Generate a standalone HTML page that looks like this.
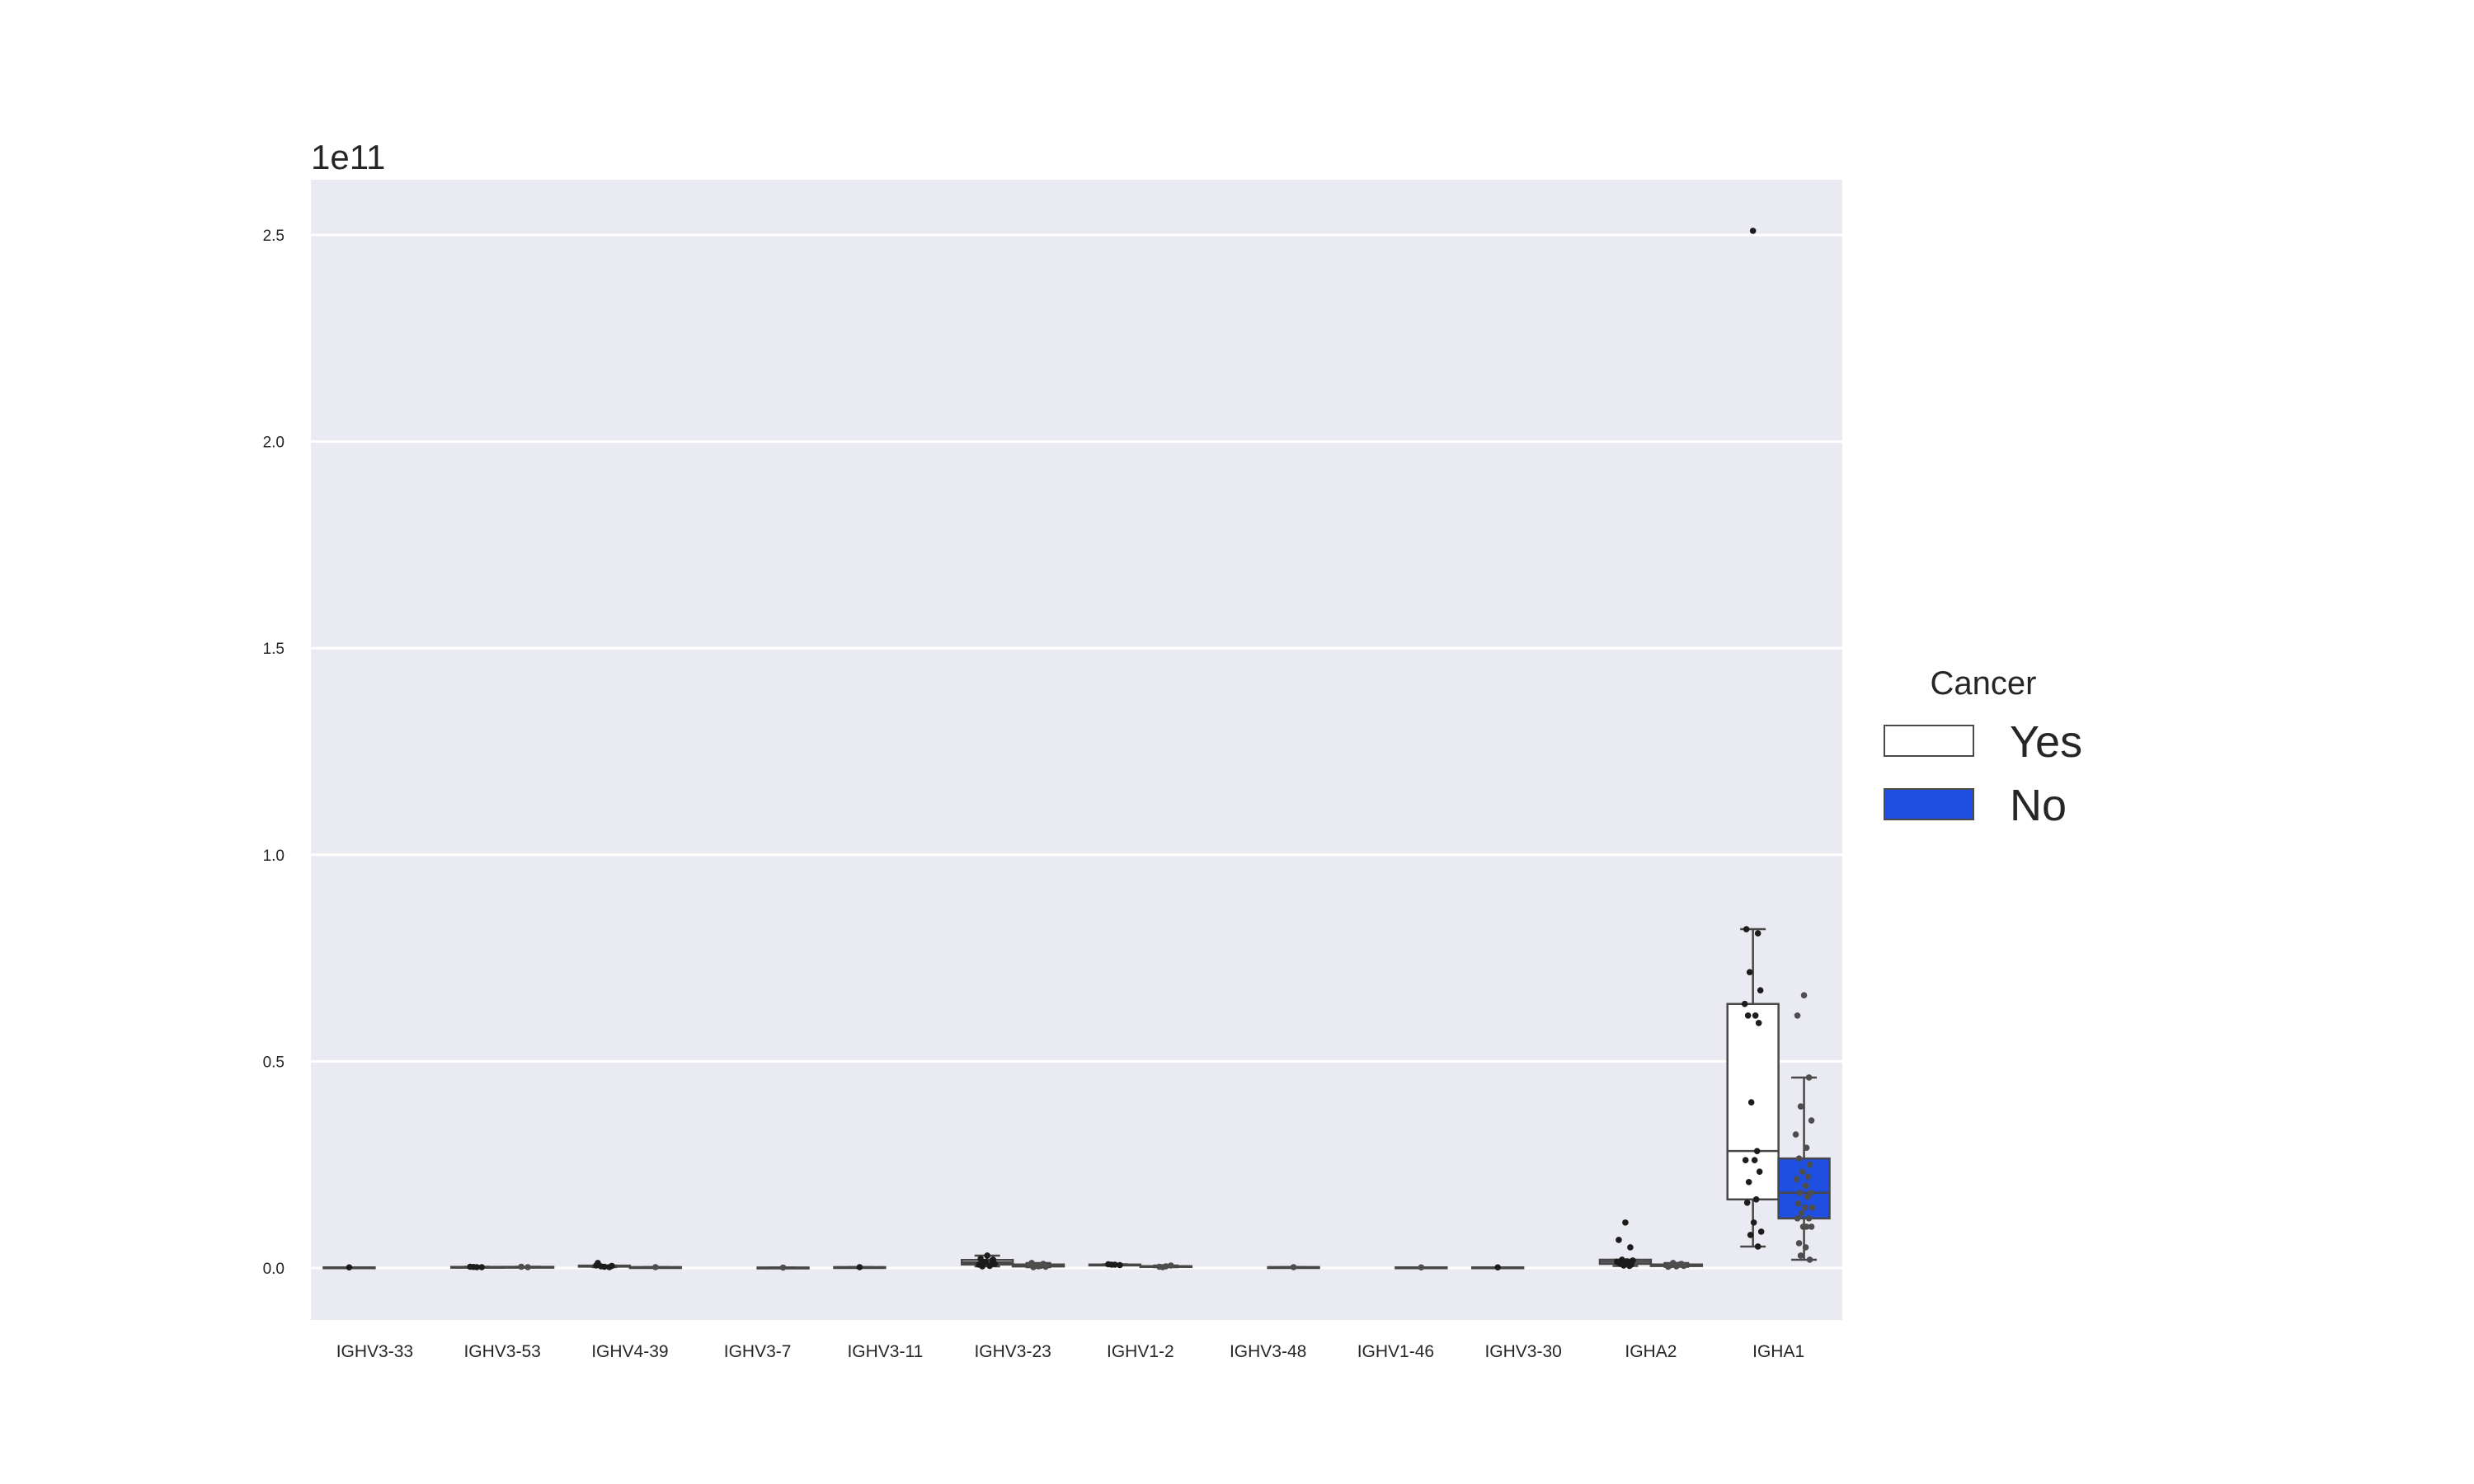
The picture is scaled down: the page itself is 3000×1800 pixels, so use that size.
<!DOCTYPE html>
<html><head><meta charset="utf-8"><style>
html,body{margin:0;padding:0;background:#fff;}
svg{display:block;font-family:"Liberation Sans",sans-serif;}
</style></head><body>
<svg id="chart" width="3000" height="1800" viewBox="0 0 3000 1800">
  <rect x="377" y="218" width="1857" height="1383" fill="#eaeaf2"/>
  <g id="grid"></g>
  <g id="marks"></g>
  <g id="axes"></g>
  <text x="377" y="205" font-size="42" fill="#262626">1e11</text>
  <g>
    <text x="2405" y="842" font-size="40" fill="#262626" text-anchor="middle">Cancer</text>
    <rect x="2285" y="880" width="108" height="37" fill="#ffffff" stroke="#4a4a4a" stroke-width="2"/>
    <text x="2437" y="918" font-size="54" fill="#262626">Yes</text>
    <rect x="2285" y="957" width="108" height="37" fill="#1f4fe0" stroke="#4a4a4a" stroke-width="2"/>
    <text x="2437" y="995" font-size="54" fill="#262626">No</text>
  </g>
</svg>
<script>
const categories = ["IGHV3-33","IGHV3-53","IGHV4-39","IGHV3-7","IGHV3-11","IGHV3-23","IGHV1-2","IGHV3-48","IGHV1-46","IGHV3-30","IGHA2","IGHA1"];
const yesValues = [
  [0.0015],
  [0.002,0.003,0.002,0.0025],
  [0.003,0.012,0.002,0.004,0.005,0.006],
  [],
  [0.002],
  [0.03,0.022,0.018,0.012,0.01,0.008,0.005,0.004,0.02,0.015],
  [0.008,0.009,0.007,0.008],
  [],
  [],
  [0.0015],
  [0.11,0.068,0.05,0.02,0.018,0.015,0.012,0.01,0.008,0.006,0.005,0.014,0.016],
  [2.51,0.82,0.81,0.716,0.672,0.639,0.611,0.611,0.593,0.401,0.283,0.261,0.261,0.233,0.208,0.166,0.158,0.11,0.088,0.08,0.052]
];
const noValues = [
  [],
  [0.002,0.003],
  [0.002],
  [0.001],
  [],
  [0.004,0.012,0.01,0.006,0.003,0.008,0.005,0.002],
  [0.004,0.003,0.006,0.002],
  [0.002],
  [0.0015],
  [],
  [0.004,0.006,0.01,0.012,0.005,0.003,0.008,0.007],
  [0.66,0.611,0.461,0.391,0.357,0.323,0.291,0.265,0.25,0.233,0.221,0.215,0.199,0.182,0.182,0.172,0.156,0.146,0.146,0.132,0.12,0.12,0.1,0.1,0.1,0.06,0.05,0.03,0.02]
];
const yTicks = [0,0.5,1.0,1.5,2.0,2.5];
const yTickLabels = ["0.0","0.5","1.0","1.5","2.0","2.5"];

const NS = "http://www.w3.org/2000/svg";
const L = 377, R = 2234, T = 218, B = 1601;
const band = (R - L) / categories.length;
const boxW = band * 0.8 / 2;
function yScale(v){ return 1538 - v * 501.2; }
function xCenter(i){ return L + (i + 0.5) * band; }
function mk(tag, attrs, parent){
  const e = document.createElementNS(NS, tag);
  for (const k in attrs) e.setAttribute(k, attrs[k]);
  parent.appendChild(e);
  return e;
}
function quant(s, p){
  const pos = (s.length - 1) * p, lo = Math.floor(pos), hi = Math.ceil(pos);
  return s[lo] + (s[hi] - s[lo]) * (pos - lo);
}
const grid = document.getElementById('grid');
const axes = document.getElementById('axes');
const marks = document.getElementById('marks');

yTicks.forEach((t, i) => {
  const gl = mk('line', {x1:L, x2:R, y1:yScale(t), y2:yScale(t), stroke:'#ffffff', 'stroke-width':3}, grid);
  
  
  const tl = mk('text', {x:345, y:yScale(t) + 7, 'font-size':19, fill:'#262626', 'text-anchor':'end'}, axes);
  tl.textContent = yTickLabels[i];
  
  
});

categories.forEach((c, i) => {
  const tl = mk('text', {x:xCenter(i), y:1646, 'font-size':21, fill:'#262626', 'text-anchor':'middle'}, axes);
  tl.textContent = c;
  
  
});

const jitter = [0, -8, 6, -4, 9, -10, 3, -6, 7, -2, 5, -9, 2, 8, -5, 4, -7, 1, 10, -3, 6, -8, 3, -1, 9, -6, 2, -4, 7, -10];

function drawGroup(vals, i, side, fill, ptColor, label){
  if (!vals.length) return;
  const s = vals.slice().sort((a,b)=>a-b);
  const q1 = quant(s, 0.25), med = quant(s, 0.5), q3 = quant(s, 0.75);
  const iqr = q3 - q1;
  const lowW = s.find(v => v >= q1 - 1.5 * iqr);
  const hiW = s.slice().reverse().find(v => v <= q3 + 1.5 * iqr);
  const x0 = side === 0 ? xCenter(i) - boxW : xCenter(i);
  const cx = x0 + boxW / 2;
  const g = mk('g', {}, marks);
  
  
  const st = {stroke:'#474747', 'stroke-width':2.5};
  mk('line', Object.assign({x1:cx, x2:cx, y1:yScale(hiW), y2:yScale(q3)}, st), g);
  mk('line', Object.assign({x1:cx, x2:cx, y1:yScale(q1), y2:yScale(lowW)}, st), g);
  mk('line', Object.assign({x1:cx - boxW/4, x2:cx + boxW/4, y1:yScale(hiW), y2:yScale(hiW)}, st), g);
  mk('line', Object.assign({x1:cx - boxW/4, x2:cx + boxW/4, y1:yScale(lowW), y2:yScale(lowW)}, st), g);
  mk('rect', Object.assign({x:x0, y:yScale(q3), width:boxW, height:Math.max(1, yScale(q1) - yScale(q3)), fill:fill}, st), g);
  mk('line', Object.assign({x1:x0, x2:x0 + boxW, y1:yScale(med), y2:yScale(med)}, st), g);
  vals.forEach((v, k) => {
    const p = mk('circle', {cx:cx + jitter[k % jitter.length], cy:yScale(v), r:3.8, fill:ptColor}, g);
    
    
  });
}
categories.forEach((c, i) => {
  drawGroup(yesValues[i], i, 0, '#ffffff', '#1c1c1c', 'yes');
  drawGroup(noValues[i], i, 1, '#1f4fe0', '#4d4d4d', 'no');
});
</script>
</body></html>
